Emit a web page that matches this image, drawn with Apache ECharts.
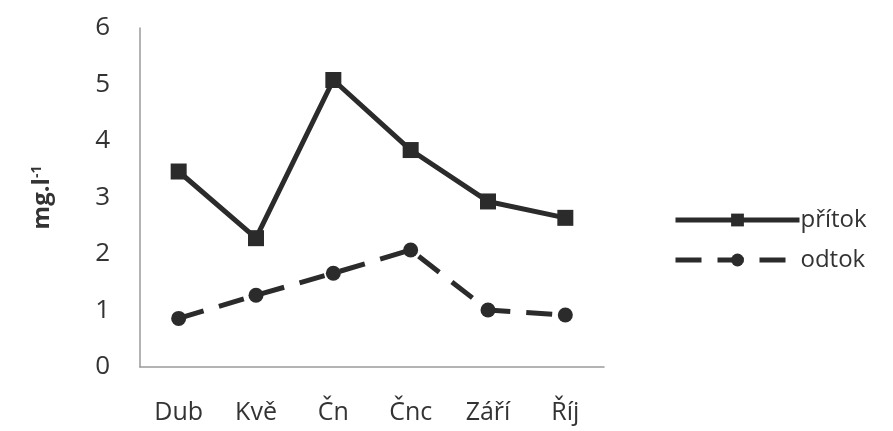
<!DOCTYPE html>
<html><head><meta charset="utf-8">
<script src="https://cdn.jsdelivr.net/npm/echarts@6/dist/echarts.min.js"></script>
<style>html,body{margin:0;padding:0;background:#fff}#c{width:893px;height:431px}</style>
</head><body><div id="c"></div>
<script>
const categories = ['Dub', 'Kvě', 'Čn', 'Čnc', 'Září', 'Říj'];
const pritok = [3.46, 2.28, 5.08, 3.84, 2.93, 2.64];
const odtok = [0.86, 1.27, 1.66, 2.07, 1.01, 0.92];
const yTicks = [0, 1, 2, 3, 4, 5, 6];

const font = '"Open Sans", "DejaVu Sans", sans-serif';
const ink = '#2b2b2b';
const chart = echarts.init(document.getElementById('c'));
chart.setOption({
  animation: false,
  backgroundColor: '#fff',
  grid: { left: 140, right: 289, top: 28, bottom: 64 },
  legend: {
    orient: 'vertical', left: 668, top: 203, itemGap: 16,
    itemWidth: 124, itemHeight: 16,
    lineStyle: { width: 5 },
    textStyle: { fontFamily: font, fontSize: 24, color: '#333', padding: [0, 0, 0, -4] },
    data: ['přítok', 'odtok']
  },
  xAxis: {
    type: 'category', data: categories, boundaryGap: true,
    axisLine: { lineStyle: { color: '#9a9a9a', width: 1.5 } },
    axisTick: { show: false },
    axisLabel: { fontFamily: font, fontSize: 25, color: '#333', margin: 33 }
  },
  yAxis: {
    type: 'value', min: yTicks[0], max: yTicks[yTicks.length - 1], interval: 1,
    name: '{a|mg.l}{b|-1}', nameLocation: 'middle', nameRotate: 90, nameGap: 86,
    nameTextStyle: {
      rich: {
        a: { fontFamily: font, fontSize: 24, fontWeight: 'bold', color: '#333' },
        b: { fontFamily: font, fontSize: 14, fontWeight: 'bold', color: '#333', verticalAlign: 'top', padding: [0, 0, 8, 0] }
      }
    },
    axisLine: { show: true, lineStyle: { color: '#9a9a9a', width: 1.5 } },
    axisTick: { show: false },
    splitLine: { show: false },
    axisLabel: { fontFamily: font, fontSize: 26, color: '#333', margin: 30 }
  },
  series: [
    {
      name: 'přítok', type: 'line', data: pritok,
      symbol: 'rect', symbolSize: 16,
      lineStyle: { color: ink, width: 5 },
      itemStyle: { color: ink }
    },
    {
      name: 'odtok', type: 'line', data: odtok,
      symbol: 'circle', symbolSize: 15,
      lineStyle: { color: ink, width: 5, type: [26, 16] },
      itemStyle: { color: ink }
    }
  ]
});
</script></body></html>
